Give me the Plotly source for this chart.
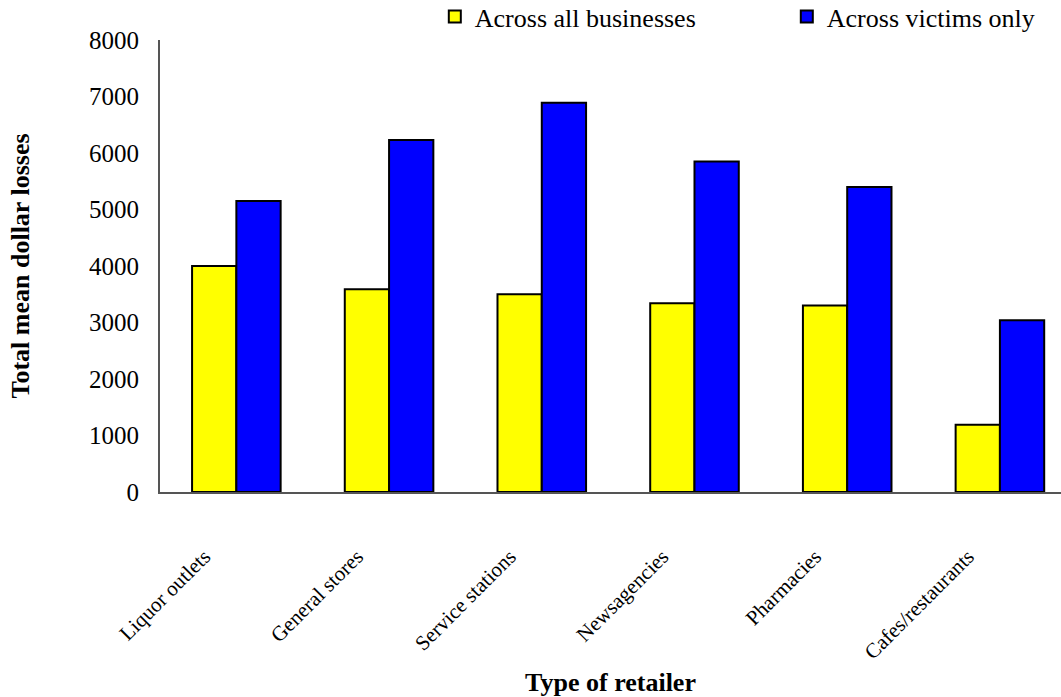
import plotly.graph_objects as go

categories = ["Liquor outlets", "General stores", "Service stations", "Newsagencies", "Pharmacies", "Cafes/restaurants"]
all_businesses = [4000, 3590, 3500, 3340, 3300, 1190]
victims_only = [5150, 6230, 6890, 5850, 5400, 3040]

font_family = "Liberation Serif"

fig = go.Figure()
fig.add_trace(go.Bar(x=categories, y=all_businesses, name="Across all businesses",
                     marker=dict(color="#FFFF00", line=dict(color="black", width=2))))
fig.add_trace(go.Bar(x=categories, y=victims_only, name="Across victims only",
                     marker=dict(color="#0000FF", line=dict(color="black", width=2))))

fig.update_layout(
    width=1061, height=697,
    margin=dict(l=160, r=0, t=40, b=205, autoexpand=False),
    plot_bgcolor="white", paper_bgcolor="white",
    barmode="group", bargap=0.42, bargroupgap=0,
    font=dict(family=font_family, color="black", size=25),
    showlegend=True,
    legend=dict(orientation="h", x=0.305, y=1.0, xanchor="left", yanchor="bottom",
                font=dict(size=26, family=font_family), entrywidth=307,
                itemwidth=30, bgcolor="rgba(0,0,0,0)"),
)
fig.update_xaxes(
    type="category", range=[-0.5, 5.4],
    showline=True, linecolor="#555555", linewidth=2, ticks="",
    tickangle=-45, tickfont=dict(size=21, family=font_family),
    ticklabelstandoff=42, ticklabelshift=-32,
    title=dict(text="<b>Type of retailer</b>", font=dict(size=26, family=font_family), standoff=20),
    showgrid=False,
)
fig.update_yaxes(
    range=[0, 8000], dtick=1000, showline=True, linecolor="#555555", linewidth=2,
    ticks="", showgrid=False, zeroline=False, tickfont=dict(size=25, family=font_family),
    ticklabelstandoff=14,
    title=dict(text="<b>Total mean dollar losses</b>", font=dict(size=26, family=font_family), standoff=52),
)

fig.write_html("out.html")
